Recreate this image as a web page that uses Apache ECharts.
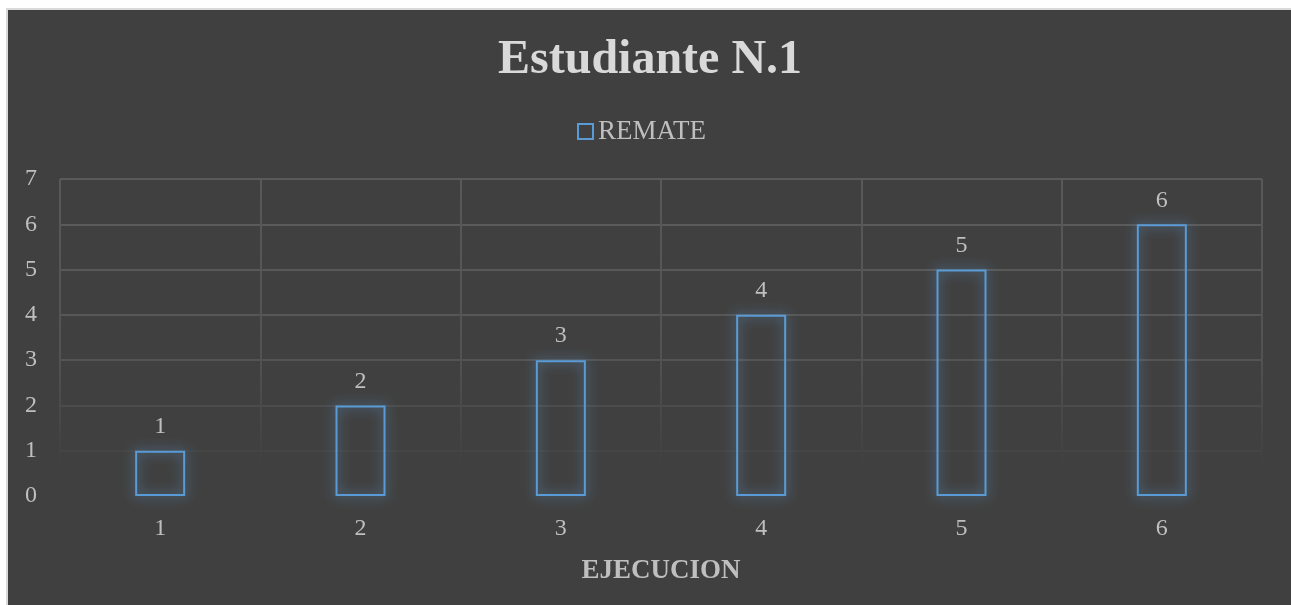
<!DOCTYPE html>
<html>
<head>
<meta charset="utf-8">
<script src="https://cdn.jsdelivr.net/npm/echarts@6/dist/echarts.min.js"></script>
<style>
html,body{margin:0;padding:0;background:#ffffff;}
#frame{position:absolute;left:6px;top:8px;width:1283px;height:600px;border-left:2px solid #d9d9d9;border-top:2px solid #d9d9d9;border-right:2px solid #d9d9d9;background:#404040;}
#chart{position:absolute;left:-8px;top:-10px;width:1291px;height:605px;}
</style>
</head>
<body>
<div id="frame"><div id="chart"></div></div>
<script>
const titleText = 'Estudiante N.1';
const seriesName = 'REMATE';
const xAxisName = 'EJECUCION';
const categories = ['1', '2', '3', '4', '5', '6'];
const values = [1, 2, 3, 4, 5, 6];
const yTicks = { min: 0, max: 7, interval: 1 };

const serif = '"Liberation Serif", "DejaVu Serif", serif';
const chart = echarts.init(document.getElementById('chart'), null, { renderer: 'canvas' });
chart.setOption({
  backgroundColor: 'transparent',
  animation: false,
  title: {
    text: titleText,
    left: 493,
    top: 32,
    padding: 5,
    textStyle: { fontFamily: serif, fontSize: 48, fontWeight: 'bold', color: '#d9d9d9' }
  },
  legend: {
    top: 113,
    left: 572,
    padding: 5,
    itemWidth: 15,
    itemHeight: 15,
    itemGap: 4,
    icon: 'rect',
    textStyle: { fontFamily: serif, fontSize: 27, color: '#bfbfbf', padding: [2, 0, 0, 0] },
    data: [{ name: seriesName, itemStyle: { color: 'rgba(0,0,0,0)', borderColor: '#5b9bd5', borderWidth: 2 } }]
  },
  grid: { left: 60, right: 29, top: 179, bottom: 109 },
  xAxis: {
    type: 'category',
    data: categories,
    name: xAxisName,
    nameLocation: 'middle',
    nameGap: 62,
    nameTextStyle: { fontFamily: serif, fontSize: 27, fontWeight: 'bold', color: '#bfbfbf' },
    axisLine: { show: false },
    axisTick: { show: false },
    axisLabel: { fontFamily: serif, fontSize: 24, color: '#bfbfbf', margin: 21 },
    splitLine: {
      show: true,
      lineStyle: {
        width: 2,
        color: { type: 'linear', x: 0, y: 0, x2: 0, y2: 1, colorStops: [
          { offset: 0, color: '#595959' },
          { offset: 0.55, color: '#535353' },
          { offset: 0.9, color: '#404040' },
          { offset: 1, color: '#404040' }
        ] }
      }
    }
  },
  yAxis: {
    type: 'value',
    min: yTicks.min,
    max: yTicks.max,
    interval: yTicks.interval,
    axisLine: { show: false },
    axisTick: { show: false },
    axisLabel: { fontFamily: serif, fontSize: 24, color: '#bfbfbf', margin: 23 },
    splitLine: {
      lineStyle: {
        width: 2,
        color: ['#404040', '#454545', '#4c4c4c', '#545454', '#575757', '#595959', '#5a5a5a', '#5a5a5a']
      }
    }
  },
  series: [{
    name: seriesName,
    type: 'bar',
    data: values,
    barWidth: 50,
    itemStyle: {
      color: 'rgba(0,0,0,0)',
      borderColor: '#5b9bd5',
      borderWidth: 2,
      shadowBlur: 12,
      shadowColor: 'rgba(91,155,213,1)'
    },
    label: {
      show: true,
      position: 'top',
      distance: 12,
      fontFamily: serif,
      fontSize: 24,
      color: '#bfbfbf'
    }
  }]
});
</script>
</body>
</html>
